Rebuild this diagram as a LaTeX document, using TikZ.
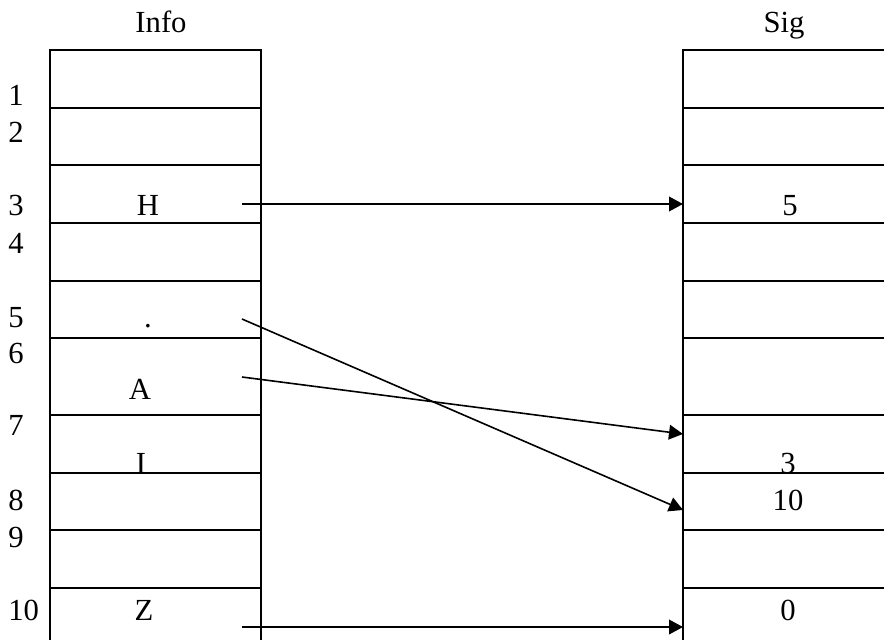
\documentclass[tikz,border=0pt]{standalone}
\usepackage{fontspec}
\setmainfont{Liberation Serif}
\usetikzlibrary{arrows.meta}
\begin{document}
\begin{tikzpicture}[x=0.75pt,y=-0.75pt,
  boxline/.style={line width=1.4pt},
  txt/.style={font=\fontsize{23}{27}\selectfont, inner sep=0pt, anchor=base},
  num/.style={font=\fontsize{23}{27}\selectfont, inner sep=0pt, anchor=base west},
  ptr/.style={line width=1.2pt, -{Triangle[length=10.5pt,width=11pt]}}]
\useasboundingbox (0,0) rectangle (884,640);
% columns
\draw[boxline] (50,640) -- (50,50) -- (261,50) -- (261,640);
\draw[boxline] (884,50) -- (683,50) -- (683,640);
\foreach \y in {108,165,223,281,338,415,473,530,588}{
  \draw[boxline] (50,\y) -- (261,\y);
  \draw[boxline] (683,\y) -- (884,\y);
}
% headings
\node[txt] (info) at (161,32) {Info};
\node[txt] (sig) at (784,32) {Sig};
% row numbers
\node[num] (n1) at (8,105) {1};
\node[num] (n2) at (8,142) {2};
\node[num] (n3) at (8,215) {3};
\node[num] (n4) at (8,253) {4};
\node[num] (n5) at (8,327) {5};
\node[num] (n6) at (8,363) {6};
\node[num] (n7) at (8,435) {7};
\node[num] (n8) at (8,510) {8};
\node[num] (n9) at (8,547) {9};
\node[num] (n10) at (8,620) {10};
% Info contents
\node[txt] (cH) at (148,215) {H};
\node[txt] (cdot) at (148,327) {.};
\node[txt] (cA) at (140,399) {A};
\node[txt] (cI) at (141,473) {I};
\node[txt] (cZ) at (144,620) {Z};
% Sig contents
\node[txt] (v5) at (790,215) {5};
\node[txt] (v3) at (788,473) {3};
\node[txt] (v10) at (788,510) {10};
\node[txt] (v0) at (788,620) {0};
% pointer coordinates
\coordinate (sH) at (242,204);
\coordinate (sdot) at (242,319);
\coordinate (sA) at (242,377);
\coordinate (sZ) at (242,627);
\coordinate (t5) at (683,204);
\coordinate (t10) at (683,510);
\coordinate (t7) at (683,434);
\coordinate (t0) at (683,627);
% pointers
\draw[ptr] (sH) -- (t5);
\draw[ptr] (sdot) -- (t10);
\draw[ptr] (sA) -- (t7);
\draw[ptr] (sZ) -- (t0);
\end{tikzpicture}
\end{document}
